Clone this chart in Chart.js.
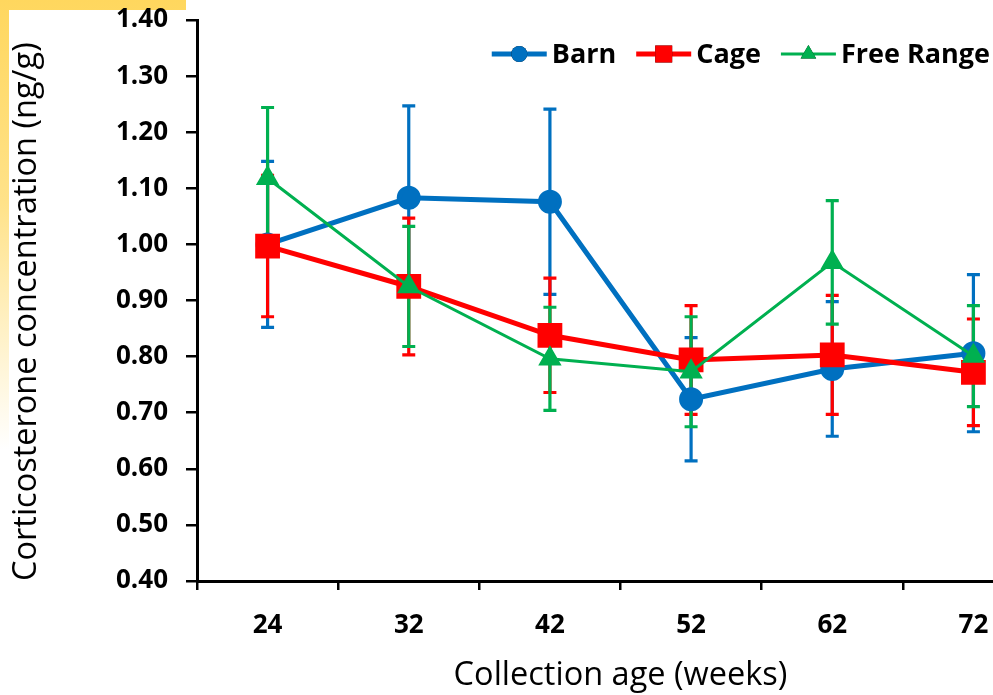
<!DOCTYPE html>
<html>
<head>
<meta charset="utf-8">
<script src="https://cdn.jsdelivr.net/npm/chart.js@4.4.1/dist/chart.umd.min.js"></script>
<style>
  html, body { margin: 0; padding: 0; overflow: hidden; background: #fff; }
  .glow {
    position: absolute; left: 0; top: 0; width: 186px; height: 450px;
    background: linear-gradient(to bottom, #ffd75e 0%, #ffe289 45%, rgba(255, 240, 200, 0) 100%);
  }
  .paper { position: absolute; left: 9px; top: 10px; width: 1200px; height: 800px; background: #fff; }
  .wrap { position: absolute; left: 0; top: 0; width: 1063px; height: 695px; }
</style>
</head>
<body>
<div class="glow"></div>
<div class="paper"></div>
<div class="wrap"><canvas id="chart1"></canvas></div>
<script>
// Data (mean and +/- error)
const categories = ['24', '32', '42', '52', '62', '72'];
const yTickValues = [0.4, 0.5, 0.6, 0.7, 0.8, 0.9, 1.0, 1.1, 1.2, 1.3, 1.4];

const barn = [1.000, 1.083, 1.076, 0.724, 0.778, 0.806];
const barnErr = [0.148, 0.164, 0.165, 0.110, 0.120, 0.140];

const cage = [0.997, 0.925, 0.838, 0.794, 0.803, 0.772];
const cageErr = [0.126, 0.122, 0.102, 0.097, 0.106, 0.095];

const freeRange = [1.118, 0.925, 0.796, 0.773, 0.968, 0.801];
const freeRangeErr = [0.126, 0.107, 0.092, 0.098, 0.110, 0.090];

const BLUE = '#0070c0';
const RED = '#ff0000';
const GREEN = '#00b050';
const FONT = "'Open Sans', sans-serif";

// Error bars with caps, drawn under the lines
const errorBars = {
  id: 'errorBars',
  beforeDatasetsDraw(chart) {
    const ctx = chart.ctx;
    const y = chart.scales.y;
    chart.data.datasets.forEach((ds, di) => {
      const meta = chart.getDatasetMeta(di);
      ctx.save();
      ctx.strokeStyle = ds.borderColor;
      ctx.lineWidth = 3.2;
      ds.data.forEach((v, i) => {
        const x = meta.data[i].x;
        const top = y.getPixelForValue(v + ds.err[i]);
        const bot = y.getPixelForValue(v - ds.err[i]);
        ctx.beginPath();
        ctx.moveTo(x, top); ctx.lineTo(x, bot);
        ctx.moveTo(x - 6.5, top); ctx.lineTo(x + 6.5, top);
        ctx.moveTo(x - 6.5, bot); ctx.lineTo(x + 6.5, bot);
        ctx.stroke();
      });
      ctx.restore();
    });
  }
};

// Legend in the top right corner: line + marker + name
const lineLegend = {
  id: 'lineLegend',
  afterDraw(chart) {
    const ctx = chart.ctx;
    const right = 990, cy = 54, lineLen = 55, gap = 5, itemGap = 20;
    ctx.save();
    ctx.font = 'bold 27px ' + FONT;
    ctx.textBaseline = 'middle';
    let x = right;
    const items = chart.data.datasets.slice().reverse();
    items.forEach(ds => {
      const tw = ctx.measureText(ds.label).width;
      x -= tw;
      ctx.fillStyle = '#000';
      ctx.fillText(ds.label, x, cy + 1);
      x -= gap;
      const x0 = x - lineLen;
      ctx.strokeStyle = ds.borderColor;
      ctx.lineWidth = ds.borderWidth;
      ctx.beginPath(); ctx.moveTo(x0, cy); ctx.lineTo(x, cy); ctx.stroke();
      Chart.helpers.drawPoint(ctx, {
        pointStyle: ds.pointStyle, radius: ds.legendRadius, borderWidth: 0, rotation: 0
      }, x0 + lineLen / 2, cy);
      ctx.fillStyle = ds.borderColor;
      ctx.fill();
      x = x0 - itemGap;
    });
    ctx.restore();
  }
};

var ctx = document.getElementById('chart1').getContext('2d');
var chart = new Chart(ctx, {
  type: 'line',
  data: {
    labels: categories,
    datasets: [
      {
        label: 'Barn',
        data: barn,
        err: barnErr,
        borderColor: BLUE,
        backgroundColor: BLUE,
        borderWidth: 5,
        pointStyle: 'circle',
        pointRadius: 9.5,
        legendRadius: 8,
        order: 2,
      },
      {
        label: 'Cage',
        data: cage,
        err: cageErr,
        borderColor: RED,
        backgroundColor: RED,
        borderWidth: 5,
        pointStyle: 'rect',
        pointRadius: 14,
        legendRadius: 12,
        order: 1,
      },
      {
        label: 'Free Range',
        data: freeRange,
        err: freeRangeErr,
        borderColor: GREEN,
        backgroundColor: GREEN,
        borderWidth: 3,
        pointStyle: 'triangle',
        pointRadius: 10.5,
        legendRadius: 9,
        order: 0,
      },
    ],
  },
  options: {
    responsive: true,
    maintainAspectRatio: false,
    animation: false,
    layout: { padding: { top: 20, right: 7, left: 0, bottom: 0 } },
    elements: {
      line: { tension: 0, fill: false },
      point: { borderWidth: 0, hoverRadius: 10 },
    },
    plugins: {
      legend: { display: false },
      tooltip: { enabled: false },
    },
    scales: {
      x: {
        type: 'category',
        offset: true,
        border: { display: true, color: '#000', width: 3 },
        grid: { offset: true, drawOnChartArea: false, color: '#000', lineWidth: 2.5, tickLength: 9 },
        ticks: { color: '#000', font: { family: FONT, size: 26, weight: 'bold' }, padding: 20, maxRotation: 0 },
        title: {
          display: true,
          text: 'Collection age (weeks)',
          color: '#000',
          font: { family: FONT, size: 32.5, weight: 'normal' },
          padding: { top: 0, bottom: 0 },
        },
        afterFit: s => { s.height = 114; },
      },
      y: {
        min: 0.4,
        max: 1.4,
        afterBuildTicks: s => { s.ticks = yTickValues.map(v => ({ value: v })); },
        border: { display: true, color: '#000', width: 3 },
        grid: { drawOnChartArea: false, color: '#000', lineWidth: 2.5, tickLength: 11 },
        ticks: {
          color: '#000',
          font: { family: FONT, size: 26, weight: 'bold' },
          padding: 18,
          callback: v => Number(v).toFixed(2),
        },
        title: {
          display: true,
          text: 'Corticosterone concentration (ng/g)',
          align: 'start',
          color: '#000',
          font: { family: FONT, size: 32.5, weight: 'normal' },
          padding: { top: 7, bottom: 0 },
        },
        afterFit: s => {
          s.width = 197;
          s.paddingTop = 0;
          s.paddingBottom = 0;
        },
      },
    },
  },
  plugins: [errorBars, lineLegend],
});
</script>
</body>
</html>
